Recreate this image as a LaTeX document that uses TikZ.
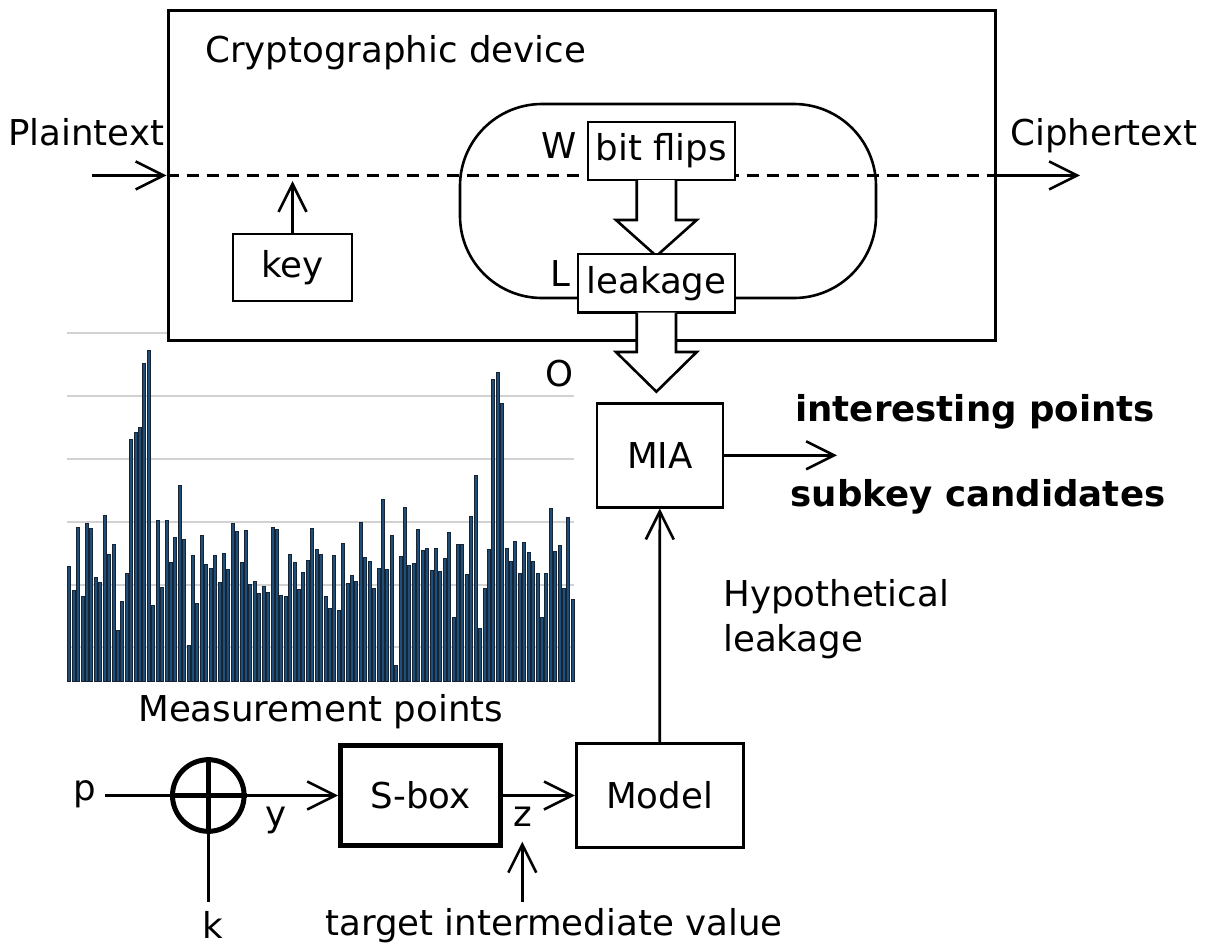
\documentclass[tikz,border=0pt]{standalone}
\usepackage{fontspec}
\setmainfont{DejaVu Sans}
\usetikzlibrary{arrows.meta,calc}
\definecolor{barfill}{RGB}{31,78,121}
\definecolor{barline}{RGB}{22,36,54}
\definecolor{gridc}{RGB}{210,210,210}
\begin{document}
\begin{tikzpicture}[x=1pt,y=-1pt,
  font=\fontsize{35.6}{42}\selectfont,
  line width=2.6pt,
  box/.style={draw, fill=white, inner sep=0pt, line width=2.6pt},
  arr/.style={-{Straight Barb[length=28pt,width=28pt]}},
  lbl/.style={anchor=base west, inner sep=0pt},
  blockarrow/.style={draw, fill=white, line width=2.6pt, line join=miter}]
\useasboundingbox (0,0) rectangle (1207,946);

% --- measurement chart ---
\foreach \g in {333.3,396,458.7,522,584.7,647.3}
  \draw[gridc, line width=1.8pt] (67.3,\g) -- (573.5,\g);
\foreach \h [count=\i] in {710,780,593,800,581,596,742,758,555,674,642,902,813,729,328,308,293,100,62,827,571,773,571,696,622,465,628,947,675,821,615,704,715,675,756,669,717,581,603,698,601,764,754,789,770,786,593,598,797,800,672,698,777,728,690,596,659,672,800,834,675,841,639,761,737,753,578,683,694,775,716,507,718,615,1006,680,533,707,699,598,660,656,720,656,723,686,608,862,644,642,734,558,435,895,775,658,147,128,220,655,695,634,729,636,666,693,731,862,730,534,665,645,775,563,808} {
  \pgfmathsetmacro\bx{69.3+(\i-1)*4.416}
  \pgfmathsetmacro\by{330+\h/3}
  \filldraw[fill=barfill, draw=barline, line width=0.8pt] (\bx-1.5,681.7) rectangle (\bx+1.5,\by);
}
\node[lbl] (meas) at (137,721) {Measurement points};

% --- cryptographic device ---
\node[box, line width=3pt, minimum width=827.5pt, minimum height=330.7pt] (device) at (581.8,175.4) {};
\node[lbl] (devlbl) at (204,62) {Cryptographic device};
\node[draw, inner sep=0pt, minimum width=416pt, minimum height=194pt, rounded corners=82pt] (capsule) at (668,201) {};
\draw[dash pattern=on 12pt off 8pt] (device.west) -- (device.east);

\coordinate (pstart) at (92,175.4);
\coordinate (cend) at (1080,175.4);
\draw[arr] (pstart) -- (device.west);
\draw[arr] (device.east) -- (cend);
\node[lbl] (plain) at (7,145) {Plaintext};
\node[lbl] (cipher) at (1009,145) {Ciphertext};

\node[box, minimum width=119pt, minimum height=67pt] (key) at (292.5,267.5) {key};
\coordinate (keytip) at (292.5,181);
\draw[arr] (key.north) -- (keytip);

\node[box, minimum width=147pt, minimum height=58pt] (bitflips) at (661.4,151) {bit flips};
\node[lbl] (W) at (540,158) {W};

\draw[blockarrow] (636.7,180) -- (636.7,220) -- (616,220) -- (656.4,256) -- (696.7,220) -- (676,220) -- (676,180);

\node[box, minimum width=157pt, minimum height=58.7pt] (leakage) at (656.5,283.3) {leakage};
\node[lbl] (L) at (549,286.7) {L};

\draw[blockarrow] (636.7,312.7) -- (636.7,352) -- (616,352) -- (656.4,391.7) -- (696.7,352) -- (676,352) -- (676,312.7);
\node[lbl] (O) at (544,386.7) {O};

% --- MIA ---
\node[box, minimum width=126pt, minimum height=104pt] (MIA) at (659.8,455.3) {MIA};
\coordinate (miaout) at (837,455.3);
\draw[arr] (MIA.east) -- (miaout);
\node[lbl, font=\fontsize{35.6}{42}\selectfont\bfseries] (interest) at (794,421.7) {interesting points};
\node[lbl, font=\fontsize{35.6}{42}\selectfont\bfseries] (subkey) at (789.5,506) {subkey candidates};

% --- Model ---
\node[box, minimum width=167pt, minimum height=104pt] (Model) at (659.7,795.5) {Model};
\draw[arr] (Model.north) -- (MIA.south);
\node[lbl] (hyp1) at (722,606) {Hypothetical};
\node[lbl] (hyp2) at (722,651.7) {leakage};

% --- S-box path ---
\node[box, line width=5pt, minimum width=160pt, minimum height=100pt] (Sbox) at (420.6,795.5) {S-box};
\node[draw, circle, line width=5pt, minimum size=71.6pt, inner sep=0pt] (xor) at (208.3,795.5) {};
\draw[line width=5pt] (xor.west) -- (xor.east) (xor.north) -- (xor.south);
\coordinate (pin) at (105,795.5);
\coordinate (kin) at (208.3,901.7);
\draw (pin) -- (xor.west);
\draw (xor.south) -- (kin);
\draw[arr] (xor.east) -- (Sbox.west);
\draw[arr] (Sbox.east) -- (Model.west);
\node[lbl] (p) at (72,800) {p};
\node[lbl] (k) at (200.7,938) {k};
\node[lbl] (y) at (264,826.7) {y};
\node[lbl] (z) at (512,826.7) {z};
\coordinate (zfrom) at (522.3,901.7);
\coordinate (zto) at (522.3,841.7);
\draw[arr] (zfrom) -- (zto);
\node[lbl] (target) at (324,935) {target intermediate value};
\end{tikzpicture}
\end{document}
